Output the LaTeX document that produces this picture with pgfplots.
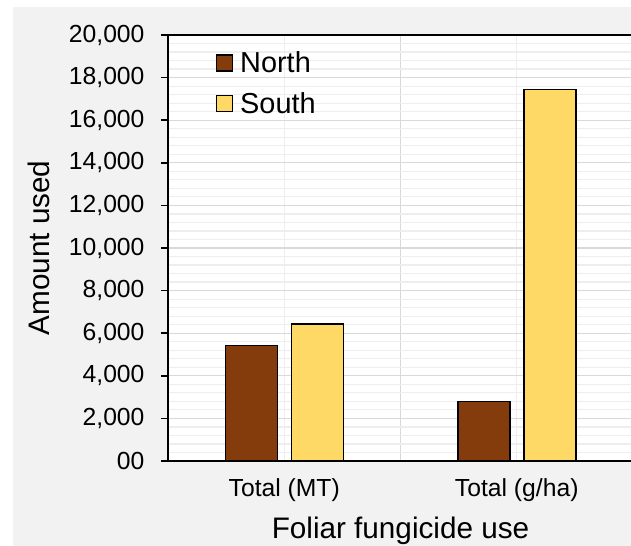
\documentclass[border=0pt]{standalone}
\usepackage{fontspec}
\setmainfont{Liberation Sans}
\usepackage{pgfplots}
\pgfplotsset{compat=1.18}
\definecolor{north}{HTML}{843C0C}
\definecolor{south}{HTML}{FFD966}
\definecolor{panel}{HTML}{F2F2F2}
\definecolor{gmaj}{HTML}{D9D9D9}
\definecolor{gmin}{HTML}{EEEEEE}
\begin{document}
\begin{tikzpicture}[x=1bp,y=1bp]
\useasboundingbox (0,0) rectangle (631,546);
\clip (0,0) rectangle (631,546);
\fill[panel] (13,0) rectangle (640,539);
\begin{axis}[
  at={(168bp,85bp)}, anchor=south west,
  scale only axis, width=465bp, height=426bp,
  ybar=14bp, bar width=52bp,
  xmin=-0.5, xmax=1.5, ymin=0, ymax=20000,
  scaled y ticks=false,
  xtick={0,1}, xticklabels={Total (MT),Total (g/ha)},
  minor xtick={-0.5,0.5,1.5},
  ytick={0,2000,...,20000},
  yticklabels={00,{2,000},{4,000},{6,000},{8,000},{10,000},{12,000},{14,000},{16,000},{18,000},{20,000}},
  minor ytick={0,400,...,20000},
  grid=both,
  major x grid style={gmin, line width=1.2bp},
  minor x grid style={gmaj, line width=1.2bp},
  major y grid style={gmaj, line width=1.2bp},
  minor y grid style={gmin, line width=1.2bp},
  axis background/.style={fill=white},
  axis line style={black, line width=2.5bp},
  tick pos=left, tick align=outside,
  major tick length=7bp, minor tick length=0bp,
  x tick style={draw=none},
  y tick style={black, line width=1.5bp},
  tick label style={font=\fontsize{24.8}{28}\selectfont},
  yticklabel style={xshift=-13bp},
  xticklabel style={yshift=-7bp},
  xlabel={Foliar fungicide use},
  ylabel={Amount used},
  label style={font=\fontsize{29.8}{34}\selectfont},
  xlabel style={at={(axis description cs:0.5,-0.1808)}, anchor=base, inner sep=0pt},
  ylabel style={at={(axis description cs:-0.2538,0.5)}, anchor=base, inner sep=0pt},
  legend style={draw=none, fill=none, at={(0.0957,0.97)}, anchor=north west,
    font=\fontsize{29}{33}\selectfont, row sep=14bp,
    legend cell align=left},
  legend image code/.code={\draw[#1, line width=1.5bp] (0bp,-8bp) rectangle (16bp,8bp);\path (21bp,0bp);},
]
\addplot[fill=north, draw=black, line width=1.5bp] coordinates {(0,5420) (1,2790)};
\addplot[fill=south, draw=black, line width=1.5bp] coordinates {(0,6430) (1,17450)};
\legend{North,South}
\end{axis}
\end{tikzpicture}
\end{document}
